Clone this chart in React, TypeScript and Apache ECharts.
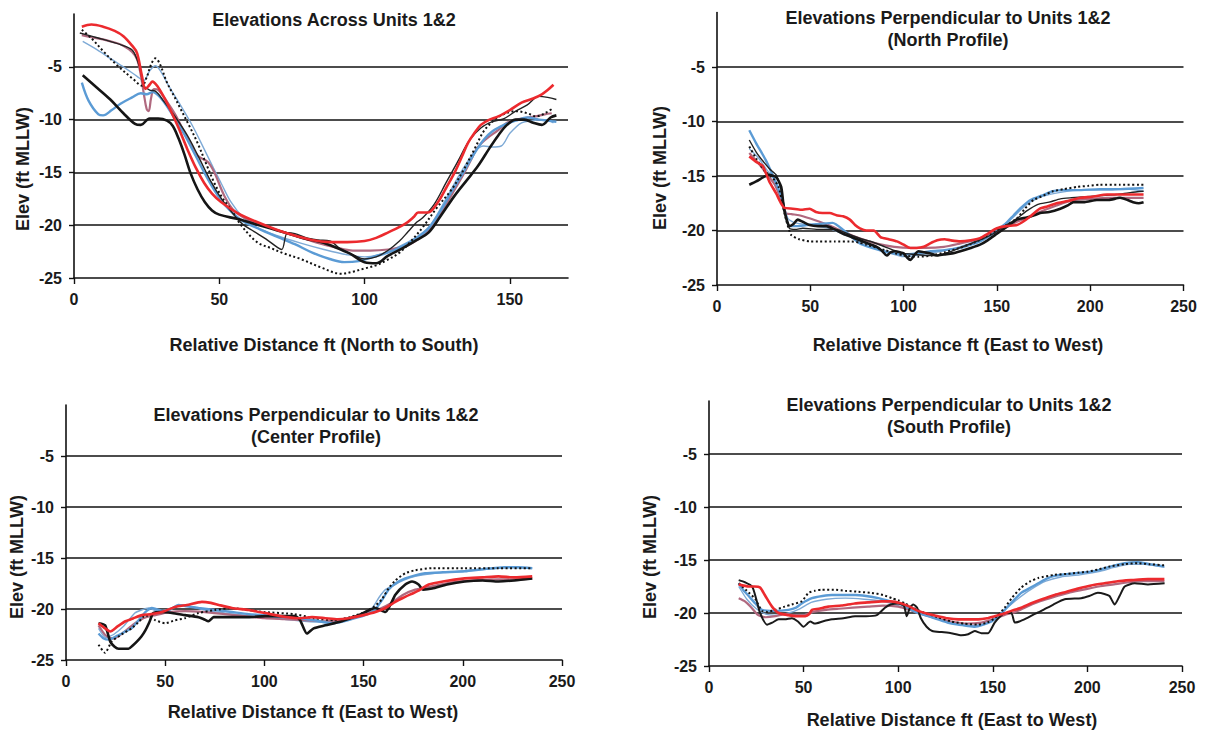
import React, { useEffect, useRef } from "react";
import * as echarts from "echarts";

// ---------- Panel 1: Elevations Across Units 1&2 (North to South) ----------
const p1BlackThick = [[3,-5.8],[8,-7],[12.5,-8.1],[17,-9.4],[21,-10.4],[23,-10.5],[26,-9.9],[29,-9.9],[32,-10.1],[34,-10.6],[36,-11.8],[38,-13.3],[40,-15],[42.5,-16.6],[45,-17.8],[47.5,-18.6],[50,-19],[56,-19.4],[60,-19.7],[65,-20.1],[70,-20.5],[75,-20.9],[80,-21.3],[85,-21.6],[90,-22.1],[95,-22.7],[100,-23.5],[104,-23.6],[108,-22.9],[113,-22.2],[118,-21.4],[122,-20.7],[126,-19.2],[131,-17.2],[135,-15.8],[139,-14.4],[143,-12.7],[146,-11.5],[149,-10.5],[152,-10],[155,-10],[158,-10.3],[161,-10.5],[164,-9.8],[166,-9.6]];
const p1BlackThin = [[2,-1.8],[6,-2.1],[10,-2.4],[16,-2.9],[20,-3.4],[21.7,-4.3],[23,-5.5],[24,-6.8],[26,-7.2],[28,-7.3],[31,-8.3],[35,-9.8],[39,-11.5],[43,-13.6],[47,-15.8],[51,-17.6],[55,-19],[58,-19.9],[62,-20.6],[66,-21.3],[70,-22.1],[71.5,-22.3],[73.5,-20.7],[76,-20.8],[80,-21.2],[84,-21.4],[88,-21.5],[92,-22.3],[96,-22.8],[100,-23.2],[104,-23],[108,-22.4],[112,-21.5],[115,-20.6],[118,-19.7],[120,-19.3],[124,-18],[128,-16],[132,-14],[136,-12],[140,-10.8],[144,-10.2],[148,-9.9],[152,-9.2],[156,-8.6],[160,-7.8],[163,-7.9],[166,-8.1]];
const p1Dotted = [[2.7,-1.5],[6,-2.3],[10,-3.5],[15,-4.9],[20.5,-6.2],[23.4,-6.8],[25,-6],[26.5,-4.8],[28,-4.2],[29.5,-4.7],[32,-6.5],[34.5,-7.8],[36.7,-9],[39.5,-10.5],[42.5,-12.2],[45.5,-14.2],[48.3,-16],[51,-17.4],[54,-18.5],[57.5,-20],[63,-21.6],[68,-22.2],[72.5,-22.7],[78,-23.2],[85,-24],[92,-24.6],[96,-24.4],[100,-24.1],[104,-23.8],[107,-23.4],[112,-22.6],[116,-21.5],[120,-20.2],[125,-18.3],[130,-16.6],[134,-14.8],[138,-12.7],[141,-11.1],[144,-10.2],[147,-9.6],[152,-9.2],[156,-9.4],[159,-9.7],[162,-9.4],[165,-8.9]];
const p1Blue = [[2.7,-6.5],[5,-8.2],[8.4,-9.5],[10,-9.6],[13,-9.1],[16,-8.5],[20,-7.9],[23,-7.5],[25,-7.6],[27,-7.4],[30,-8],[34,-9.6],[38,-11.4],[42,-13.5],[46,-15.6],[50,-17.4],[54,-18.7],[58,-19.6],[64,-20.4],[70,-21.1],[76,-21.8],[82,-22.6],[88,-23.2],[93,-23.5],[98,-23.4],[103,-23],[108,-22.6],[113,-22],[118,-21.2],[122,-20.3],[126,-18.7],[130,-16.8],[134,-15],[138,-13.1],[141,-11.9],[144,-11.1],[148,-10.5],[152,-10.1],[156,-9.8],[160,-10],[163,-10.1],[166,-10.2]];
const p1LightBlue = [[3,-2.6],[8,-3.4],[13,-4.3],[18,-5.2],[21.7,-5.9],[24,-6.3],[26,-5.4],[28,-4.9],[30,-5.5],[33,-7],[37,-8.8],[41,-10.7],[44.8,-12.8],[48,-14.6],[50.6,-16],[54,-17.8],[58,-19.2],[63,-20.2],[70,-21],[78,-21.7],[86,-22.3],[94,-22.8],[100,-23],[106,-22.7],[112,-22],[118,-21.1],[122,-20.2],[126,-18.5],[130,-16.5],[134,-14.6],[138,-13],[141,-12.5],[144,-12.6],[147,-12.5],[150,-11.3],[154,-10.3],[158,-10.1],[162,-10],[165,-10.3]];
const p1Red = [[2.7,-1.2],[6,-1],[10,-1.2],[14,-1.6],[17,-2.1],[20,-3],[21.7,-3.7],[23.4,-5.9],[24.6,-7.1],[26,-6.7],[27,-6.4],[28.6,-6.8],[31,-7.9],[33,-9],[36,-10.8],[39,-12.8],[42,-14.6],[44.8,-16],[47.5,-17],[50.6,-17.8],[56,-18.8],[63,-19.7],[72.5,-20.7],[81.8,-21.4],[88,-21.6],[94,-21.6],[100,-21.5],[104,-21.2],[108,-20.7],[113.8,-19.9],[117,-19.2],[118.4,-18.8],[121.8,-18.8],[125.3,-17.8],[128,-16.5],[131,-15],[133.5,-13.5],[135.6,-12.2],[138,-11.2],[140,-10.5],[143,-10],[146,-9.7],[150,-9.1],[154,-8.4],[158,-8],[161,-7.6],[163,-7.2],[165,-6.7]];
const p1Mauve = [[2.7,-2],[6,-2.2],[10,-2.4],[14,-2.7],[17,-3],[20,-3.6],[21.7,-4.3],[23,-5.8],[24,-7.5],[25,-9],[25.7,-9.2],[26.5,-8],[27.5,-7.1],[29,-7.2],[32,-8.3],[35,-9.6],[38.5,-11.5],[42.5,-13.4],[46,-14],[48.3,-15],[51.7,-17.2],[55,-18.6],[60,-19.5],[67,-20.2],[75,-20.9],[83,-21.6],[90,-22.1],[96,-22.4],[102,-22.4],[108,-22.3],[114,-22],[118,-21.4],[122,-20.5],[126,-19],[130,-17.1],[134,-15.2],[137,-13.6],[139,-12.6],[142,-11.8],[146,-11],[149,-10.3],[154,-9.9],[158.6,-9.7],[162,-9.5],[164.4,-9.4]];

// ---------- Panel 2: North Profile (East to West) ----------
const p2BlackThick = [[17.3,-15.8],[21,-15.5],[25.4,-15.06],[28,-14.9],[31.7,-15.1],[34.4,-16],[36,-18.1],[38.8,-19.6],[41,-19.4],[43.3,-19],[46,-19.2],[49.6,-19.5],[54,-19.6],[58.6,-19.6],[63,-19.9],[67.6,-20.3],[72,-20.6],[76.6,-20.9],[81,-21.2],[85.6,-21.5],[88,-21.8],[91,-22.3],[93,-22],[95.5,-21.9],[98,-22],[100,-22.1],[102,-22.5],[103.6,-22.7],[106,-22.2],[108,-21.9],[111,-22],[114.4,-22.1],[118,-22.3],[121.6,-22.2],[126,-22.1],[130.4,-21.9],[136,-21.6],[141,-21.3],[145,-20.9],[150,-20.3],[155,-19.7],[160.7,-19],[166,-18.8],[170,-18.6],[173.2,-18.4],[178,-18.3],[184,-18],[188,-17.7],[191,-17.4],[197,-17.4],[203.6,-17.2],[210,-17.2],[216,-17],[220,-17.2],[223,-17.4],[226,-17.5],[228.6,-17.4]];
const p2BlackThin = [[17.3,-11.7],[21,-12.8],[25.4,-13.8],[28.5,-14.4],[31.7,-14.9],[34.4,-16.3],[37,-18.7],[38.8,-19.8],[42,-19.9],[46,-19.8],[55,-19.9],[64,-19.9],[70,-20.3],[78,-20.8],[84,-21.1],[90,-21.5],[96,-21.9],[100,-22.1],[106,-22.2],[112,-22.3],[118,-22.3],[124,-22],[130,-21.6],[136,-21.2],[142,-20.8],[148,-20.3],[154,-19.6],[160,-19],[166,-18.2],[172,-17.6],[178,-17.4],[184,-17.1],[190,-17],[198,-16.9],[206,-16.8],[214,-16.7],[222,-16.5],[228.6,-16.4]];
const p2Dotted = [[17.3,-12.3],[21,-13.4],[25.4,-14.5],[30,-15.2],[33,-16],[35,-17.5],[37,-19],[39.7,-20.4],[44,-20.8],[50,-21],[55,-21],[63,-21],[71,-21],[76,-21.1],[80,-21.3],[90,-21.8],[100,-22.3],[108,-22.4],[115,-22.3],[122,-22],[130,-21.6],[138,-21.1],[145,-20.5],[150,-20],[155,-19.5],[160.7,-18.9],[165,-18],[169.6,-17.2],[175,-16.8],[180,-16.4],[186,-16.2],[193,-16],[199,-15.9],[205,-15.8],[216,-15.8],[228.6,-15.8]];
const p2Blue = [[17.3,-10.8],[21,-12],[26,-13.5],[30,-15],[34.4,-16.9],[36.5,-18.3],[38.8,-19.6],[43,-19.6],[48,-19.5],[55,-19.4],[62,-19.3],[68,-20],[76.6,-21.2],[83,-21.6],[89,-21.9],[95,-22.1],[100,-22.2],[107,-22.1],[114.4,-21.9],[122,-21.8],[130.4,-21.6],[136,-21.3],[141,-21],[146,-20.5],[150,-20],[154.5,-19.4],[159,-18.6],[163,-17.9],[168,-17.2],[174,-16.8],[180,-16.4],[186,-16.3],[193,-16.3],[205,-16.2],[216,-16.2],[228.6,-16.1]];
const p2LightBlue = [[17.3,-12.5],[22,-13.3],[27,-14.5],[32,-15.6],[35,-17.3],[38,-18.9],[42,-19.3],[50,-19.5],[60,-19.8],[70,-20.5],[80,-21.2],[90,-21.9],[100,-22.4],[110,-22.2],[120,-21.9],[130,-21.5],[140,-20.9],[150,-20.1],[158,-18.9],[166,-17.6],[174,-16.9],[184,-16.5],[196,-16.3],[210,-16.3],[220,-16.2],[228.6,-16.4]];
const p2Red = [[17.3,-13.2],[21,-13.7],[24.6,-14.1],[28,-15.5],[31.7,-16.6],[34,-17.4],[36,-17.9],[40.6,-18],[45,-18.1],[49.6,-18],[53,-18.3],[56.5,-18.4],[60.4,-18.4],[64,-18.6],[67.6,-18.7],[71.2,-19],[74,-19.5],[76.6,-19.8],[80,-20],[84,-20],[87.6,-20.6],[92,-20.8],[96.4,-21],[100,-21.3],[103.6,-21.6],[107,-21.6],[110.8,-21.5],[114,-21.2],[118,-20.9],[122,-20.8],[125.2,-20.9],[130.4,-21],[136,-20.9],[141,-20.7],[145,-20.3],[150,-19.8],[155,-19.6],[160.7,-19.5],[164,-19.2],[168,-18.7],[173,-18],[177,-17.8],[182,-17.5],[188,-17.3],[194.6,-17],[201,-16.9],[209,-16.7],[219.6,-16.7],[228.6,-16.7]];
const p2Mauve = [[17.3,-12.9],[22,-13.8],[27,-14.9],[31,-15.8],[34,-17],[37,-18.4],[40,-18.5],[44,-18.6],[50,-18.9],[55,-19.2],[61,-19.6],[67.6,-20.1],[76,-20.7],[85.6,-21.2],[95,-21.5],[103.6,-21.6],[112,-21.6],[121.6,-21.5],[130,-21.2],[140,-20.8],[150,-20.1],[155,-19.7],[160.7,-19.2],[167,-18.8],[173,-18.3],[182,-17.7],[191,-17.2],[200,-17.1],[209,-17],[218,-17],[228.6,-17]];

// ---------- Panel 3: Center Profile (East to West) ----------
const p3BlackThick = [[16.4,-21.4],[19.7,-21.6],[22.3,-23.2],[24.5,-23.7],[26.5,-23.9],[31.5,-23.9],[33.5,-23.6],[35.7,-23.2],[38,-22.7],[40,-22.1],[42,-21.3],[44,-20.4],[48.3,-20.3],[53.4,-20.4],[60,-20.6],[66.8,-20.8],[69.5,-21],[71.8,-21.2],[74.4,-20.8],[83.6,-20.8],[92,-20.8],[100.4,-20.7],[108,-20.7],[115.5,-20.7],[118,-21.1],[121.4,-22.4],[124.8,-21.9],[130.7,-21.6],[139,-21.2],[147.5,-20.6],[155.9,-19.9],[161,-20.3],[163.5,-19.6],[166,-18.6],[171,-17.6],[174.4,-17.3],[177.7,-17.6],[180,-18.1],[184.5,-18],[192,-17.6],[201,-17.3],[210,-17.2],[218,-17.3],[226,-17.2],[235,-17]];
const p3Dotted = [[16.4,-23.5],[19.7,-24.3],[23,-23.2],[28,-22.5],[33,-21.9],[37,-21.2],[40,-20.6],[45,-21.1],[50,-21.4],[55,-21.1],[60,-20.9],[66.8,-20.4],[75,-20.1],[83.6,-19.9],[92,-20.1],[100,-20.3],[115,-20.5],[125,-20.9],[135,-21.1],[143,-20.8],[150.8,-20.3],[155,-19.8],[159,-19.1],[162.5,-18],[166,-17.2],[171,-16.5],[176,-16.2],[184.5,-16],[201,-16],[218,-16],[235,-16]];
const p3Blue = [[16.4,-22.4],[19,-22.9],[21.6,-23],[26,-22.6],[30,-22.2],[33,-21.9],[37,-21],[40,-20.3],[43.3,-19.9],[47,-20.1],[50,-20.3],[53,-20],[56.7,-19.6],[60,-19.7],[66.8,-19.9],[75,-20.1],[83.6,-20.3],[92,-20.5],[100,-20.6],[108,-20.8],[116.8,-20.9],[125,-21.1],[134,-21.4],[140,-21.2],[147.5,-20.8],[152,-20.5],[156,-20],[159,-19.2],[162.6,-18.1],[166,-17.5],[171,-17],[176,-16.7],[181,-16.5],[190,-16.4],[201,-16.3],[210,-16.1],[221,-15.9],[228,-15.9],[235,-16]];
const p3LightBlue = [[16.4,-21.9],[20,-22.8],[24,-22.5],[29,-21.7],[34.7,-20.4],[38,-20.1],[41.6,-19.9],[46,-20.2],[52,-20],[58,-19.6],[64,-19.8],[72,-20.2],[80,-20.4],[90,-20.6],[100,-20.8],[110,-21],[120,-21.2],[130,-21.3],[140,-21],[148,-20.6],[154,-20],[158,-18.8],[161,-18.1],[165,-17.7],[170,-17.2],[176,-16.8],[186,-16.5],[198,-16.3],[212,-16.1],[224,-15.9],[235,-16]];
const p3Red = [[16.4,-21.4],[19,-21.8],[22.3,-22.2],[26,-21.7],[30,-21.2],[34,-20.9],[38.3,-20.6],[43,-20.5],[48.3,-20.3],[55,-19.8],[61,-19.6],[68.5,-19.3],[73,-19.4],[77,-19.6],[83.6,-19.9],[92,-20.1],[100.4,-20.4],[108,-20.7],[117,-20.9],[124,-20.8],[130.7,-20.9],[137,-21],[142.4,-20.9],[150,-20.6],[156,-20.3],[161,-19.9],[166,-19.3],[170,-18.9],[174.4,-18.5],[177.7,-18.2],[182.8,-17.6],[190,-17.3],[201,-17],[210,-16.9],[218,-16.8],[226,-16.9],[235,-16.8]];
const p3Mauve = [[16.4,-21.6],[20,-22.6],[24,-22.9],[29,-22.3],[34,-21.5],[39,-20.9],[45,-20.6],[52,-20.3],[60,-20.2],[70,-20.3],[80,-20.5],[90,-20.7],[100,-20.9],[110,-21],[120,-21.1],[130,-21.2],[140,-21],[150,-20.5],[158,-20],[164,-19.4],[170,-18.6],[176,-18.1],[184,-17.8],[194,-17.4],[206,-17.2],[218,-17.1],[228,-17.1],[235,-17]];

// ---------- Panel 4: South Profile (East to West) ----------
const p4Black = [[15.7,-16.9],[19,-17.1],[22.8,-17.5],[25,-18.7],[27,-20],[30.7,-21.1],[33.5,-20.9],[36.8,-20.6],[40,-20.6],[43.8,-20.5],[47,-20.8],[50,-21.3],[52,-21],[53.5,-20.8],[56,-21],[60,-20.8],[65,-20.6],[71,-20.5],[77.2,-20.3],[83,-20.3],[88.7,-20.2],[93,-19.5],[96,-19.2],[100,-19.1],[103,-19.3],[104.5,-20.3],[106,-19.6],[108,-19.2],[110,-19.5],[112,-20.5],[115,-21.3],[118,-21.7],[123,-21.8],[128,-21.9],[133.4,-22.1],[137,-22],[140.5,-21.7],[144,-21.9],[147.5,-21.9],[151,-20.9],[154,-20.3],[156.3,-20],[159.8,-20],[161.6,-20.9],[164,-20.8],[167.7,-20.5],[171,-20.2],[175.7,-19.8],[182,-19.2],[188,-18.7],[196.7,-18.6],[201,-18.4],[205.5,-18.1],[209,-18.2],[211.7,-18.4],[214.4,-19.2],[217,-18.4],[219.7,-17.5],[225,-17.2],[232,-17.3],[240.8,-17.2]];
const p4Dotted = [[15.7,-17.2],[20,-17.9],[24.5,-18.7],[28,-19.8],[31,-19.9],[35,-19.7],[40,-19.4],[43.8,-19.2],[49,-18.9],[52.6,-18.1],[56,-17.9],[59.7,-17.8],[66,-17.8],[72,-17.9],[79,-18],[86,-18.1],[92,-18.3],[96.6,-18.6],[100,-18.8],[103.6,-19.1],[109,-19.6],[114,-20],[121,-20.4],[128,-20.8],[135,-21],[142.3,-21.1],[147,-20.9],[151,-20.5],[156.3,-19.5],[160,-18.6],[165,-17.6],[170,-17],[174,-16.7],[182.7,-16.4],[190,-16.3],[195,-16.2],[200,-16.1],[205.5,-15.9],[212,-15.6],[219.6,-15.4],[226.6,-15.3],[233,-15.4],[240.7,-15.5]];
const p4Blue = [[15.7,-17.2],[18,-17.8],[21,-18.4],[24.5,-19.1],[28,-19.7],[35,-19.8],[42,-19.7],[46,-19.5],[49,-19.1],[54.4,-18.6],[60,-18.4],[65,-18.3],[71,-18.3],[77.2,-18.3],[83,-18.4],[89.5,-18.6],[96,-18.9],[101.8,-19.2],[106,-19.6],[110.5,-20],[116,-20.3],[121,-20.6],[126,-20.9],[131.7,-21.1],[136,-21.2],[140.5,-21.3],[145,-21.1],[149.3,-20.8],[153,-20.3],[156.3,-19.7],[160,-19],[165,-18.1],[170,-17.6],[174,-17.2],[178,-16.8],[182.7,-16.5],[191.5,-16.3],[202,-16.1],[207,-15.9],[212.6,-15.6],[219.6,-15.3],[226.6,-15.2],[233,-15.4],[240.7,-15.6]];
const p4LightBlue = [[15.7,-17.5],[20,-18.7],[25,-19.6],[30,-20.1],[36,-20.2],[42,-20],[48,-19.6],[54,-19],[62,-18.7],[72,-18.6],[82,-18.7],[92,-18.9],[100,-19.3],[108,-19.8],[118,-20.4],[128,-20.9],[138,-21.2],[146,-21],[152,-20.4],[157,-19.6],[163,-18.7],[170,-17.8],[178,-17],[186,-16.6],[196,-16.4],[206,-16.1],[214,-15.7],[222,-15.4],[230,-15.4],[240.7,-15.7]];
const p4Red = [[15.7,-17.3],[21,-17.5],[24,-17.5],[27,-17.6],[29.8,-18.4],[33.3,-19.4],[36.8,-20],[42,-20.2],[46,-20.3],[50.9,-20.3],[53,-20.1],[54.4,-19.7],[58,-19.6],[63,-19.4],[70,-19.3],[77,-19.1],[84,-19],[91.3,-18.9],[96,-18.9],[101.8,-19.1],[106,-19.4],[110.6,-19.8],[116,-20.1],[121,-20.3],[126,-20.5],[131.7,-20.6],[137,-20.6],[142.3,-20.6],[147,-20.5],[151,-20.3],[155,-20.1],[159.8,-19.8],[165,-19.5],[170,-19.1],[176,-18.7],[182.7,-18.3],[189,-18],[195,-17.7],[202,-17.4],[209,-17.2],[216,-17],[223,-16.9],[232,-16.8],[240.7,-16.8]];
const p4Mauve = [[15.7,-18.6],[19,-18.9],[22,-19.4],[26,-20.2],[30,-20.4],[35,-20.3],[40,-20.1],[45,-20.2],[50,-20.2],[55,-19.9],[62,-19.7],[68.5,-19.6],[76,-19.5],[84,-19.4],[92,-19.3],[100,-19.4],[106,-19.7],[112,-20.1],[120,-20.5],[128,-20.8],[136,-21],[144,-20.9],[150,-20.6],[156,-20.2],[162,-19.9],[168,-19.4],[175,-18.9],[182,-18.5],[190,-18.1],[198,-17.8],[206,-17.5],[214,-17.3],[222,-17.1],[230,-17],[240.7,-17]];

// ---------- Text ----------
const titles = [
  ["Elevations Across Units 1&2"],
  ["Elevations Perpendicular to Units 1&2", "(North Profile)"],
  ["Elevations Perpendicular to Units 1&2", "(Center Profile)"],
  ["Elevations Perpendicular to Units 1&2", "(South Profile)"],
];
const xNames = [
  "Relative Distance ft (North to South)",
  "Relative Distance ft (East to West)",
  "Relative Distance ft (East to West)",
  "Relative Distance ft (East to West)",
];
const yName = "Elev (ft MLLW)";
const xMaxes = [170, 250, 250, 250];

const FONT = '"Liberation Sans", Arial, Helvetica, sans-serif';
const INK = "#1a1a1a";

const STYLES: Record<string, any> = {
  lightBlue: { color: "#7eaad6", width: 1.4 },
  mauve: { color: "#b0697f", width: 2.2 },
  blue: { color: "#5b9bd5", width: 2.4 },
  dotted: { color: "#111111", width: 2, type: [2, 2.5] },
  blackThin: { color: "#222222", width: 1.4 },
  blackMid: { color: "#1a1a1a", width: 2 },
  blackThick: { color: "#151515", width: 2.6 },
  red: { color: "#ec2a2e", width: 2.6 },
};

const panelSeries: Record<string, number[][]>[] = [
  { lightBlue: p1LightBlue, mauve: p1Mauve, blue: p1Blue, dotted: p1Dotted, blackThin: p1BlackThin, blackThick: p1BlackThick, red: p1Red },
  { lightBlue: p2LightBlue, mauve: p2Mauve, blue: p2Blue, dotted: p2Dotted, blackThin: p2BlackThin, blackThick: p2BlackThick, red: p2Red },
  { lightBlue: p3LightBlue, mauve: p3Mauve, blue: p3Blue, dotted: p3Dotted, blackThick: p3BlackThick, red: p3Red },
  { lightBlue: p4LightBlue, mauve: p4Mauve, blue: p4Blue, dotted: p4Dotted, blackMid: p4Black, red: p4Red },
];

// layout (pixels)
const GRIDS = [
  { left: 74, top: 14, width: 494, height: 264 },
  { left: 717, top: 12.5, width: 466.5, height: 272.5 },
  { left: 66, top: 405, width: 496, height: 255 },
  { left: 709, top: 401, width: 473, height: 265 },
];
const TITLE_POS = [
  { x: 334, y: [20] },
  { x: 948, y: [18, 40] },
  { x: 316, y: [415, 437] },
  { x: 949, y: [405, 427] },
];
const XNAME_POS = [
  { x: 324, y: 345 },
  { x: 958, y: 345 },
  { x: 313, y: 712 },
  { x: 952, y: 720 },
];
const YNAME_POS = [
  { x: 23, y: 169 },
  { x: 660, y: 168 },
  { x: 17, y: 557 },
  { x: 650, y: 557 },
];

function buildOption() {
  const grid = GRIDS.map((g) => ({ ...g, containLabel: false, outerBoundsMode: "none" }));
  const xAxis = xMaxes.map((mx, i) => ({
    type: "value",
    gridIndex: i,
    min: 0,
    max: mx,
    interval: 50,
    axisLine: { show: true, onZero: false, lineStyle: { color: "#111", width: 1.6 } },
    axisTick: { show: true, length: 6, lineStyle: { color: "#111", width: 1.4 } },
    axisLabel: {
      show: true,
      margin: 13,
      fontSize: 16,
      fontWeight: "bold",
      fontFamily: FONT,
      color: INK,
      showMaxLabel: mx === 250,
    },
    splitLine: { show: false },
  }));
  const yAxis = GRIDS.map((_, i) => ({
    type: "value",
    gridIndex: i,
    min: -25,
    max: 0,
    interval: 5,
    axisLine: { show: true, onZero: false, lineStyle: { color: "#111", width: 1.6 } },
    axisTick: { show: true, length: 5, lineStyle: { color: "#111", width: 1.4 } },
    axisLabel: {
      show: true,
      margin: 12,
      fontSize: 16,
      fontWeight: "bold",
      fontFamily: FONT,
      color: INK,
      showMaxLabel: false,
    },
    splitLine: {
      show: true,
      showMaxLine: false,
      showMinLine: false,
      lineStyle: { color: "#111", width: 1.5 },
    },
  }));
  const series: any[] = [];
  panelSeries.forEach((ps, i) => {
    Object.keys(ps).forEach((key) => {
      const st = STYLES[key];
      series.push({
        type: "line",
        name: `${key}-${i}`,
        xAxisIndex: i,
        yAxisIndex: i,
        data: ps[key],
        showSymbol: false,
        symbol: "none",
        smooth: i === 0 ? 0.35 : 0.2,
        lineStyle: { color: st.color, width: st.width, type: st.type || "solid" },
        itemStyle: { color: st.color },
        emphasis: { disabled: true },
      });
    });
  });
  const graphic: any[] = [];
  const font18 = `bold 18px ${FONT}`;
  titles.forEach((lines, i) => {
    lines.forEach((t, j) => {
      graphic.push({
        type: "text",
        x: TITLE_POS[i].x,
        y: TITLE_POS[i].y[j],
        style: { text: t, font: font18, fill: INK, textAlign: "center", textVerticalAlign: "middle" },
      });
    });
  });
  xNames.forEach((t, i) => {
    graphic.push({
      type: "text",
      x: XNAME_POS[i].x,
      y: XNAME_POS[i].y,
      style: { text: t, font: font18, fill: INK, textAlign: "center", textVerticalAlign: "middle" },
    });
    graphic.push({
      type: "text",
      x: YNAME_POS[i].x,
      y: YNAME_POS[i].y,
      rotation: Math.PI / 2,
      style: { text: yName, font: font18, fill: INK, textAlign: "center", textVerticalAlign: "middle" },
    });
  });
  return {
    animation: false,
    backgroundColor: "#ffffff",
    tooltip: { show: false },
    legend: { show: false },
    grid,
    xAxis,
    yAxis,
    series,
    graphic,
  };
}

export default function App() {
  const ref = useRef<HTMLDivElement>(null);
  useEffect(() => {
    if (!ref.current) return;
    const chart = echarts.init(ref.current, undefined, { renderer: "svg" });
    chart.setOption(buildOption() as any);
    return () => chart.dispose();
  }, []);
  return (
    <div
      ref={ref}
      style={{ position: "absolute", left: 0, top: 0, width: 1207, height: 736, background: "#fff" }}
    />
  );
}
